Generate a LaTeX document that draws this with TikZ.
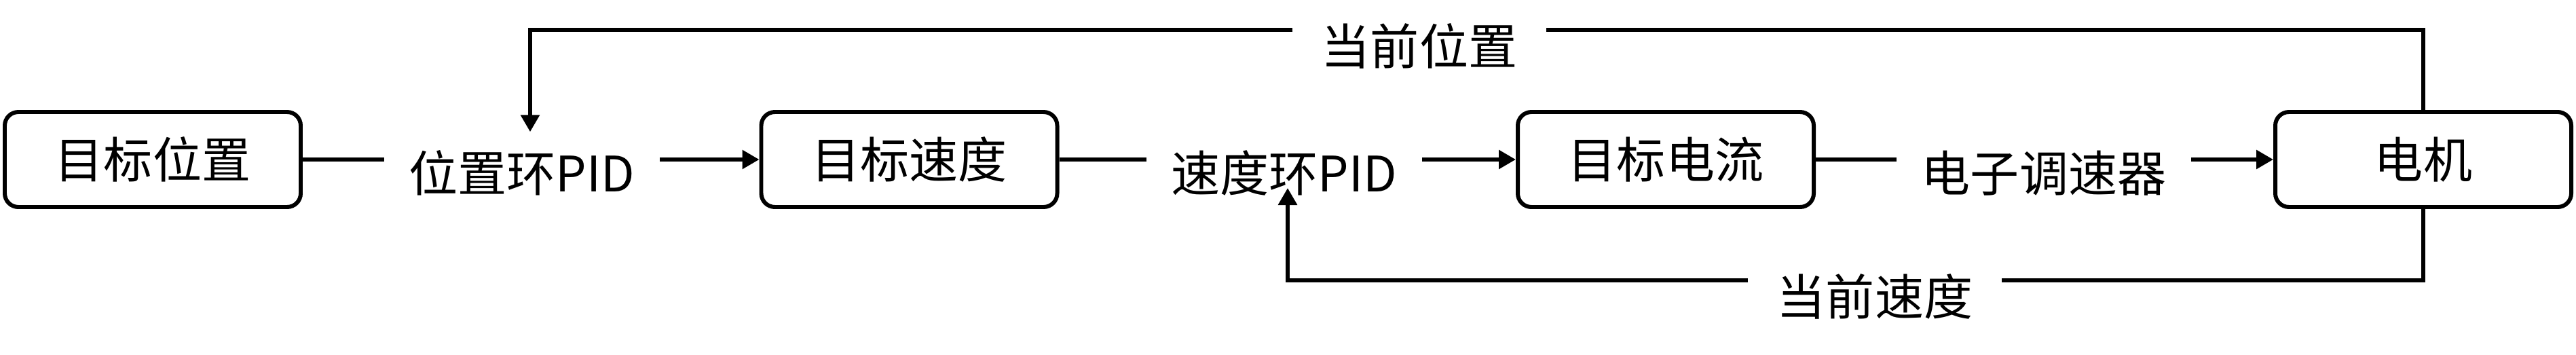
\documentclass[tikz,border=0pt]{standalone}
\usepackage{fontspec}
\setmainfont{Noto Sans CJK SC}
\usetikzlibrary{arrows.meta, positioning, calc}

\tikzset{
  block/.style={draw, line width=1.7pt, rounded corners=0.2cm,
    minimum width=4.36cm, minimum height=1.40cm,
    font=\fontsize{20.5}{24}\selectfont},
  stage/.style={inner xsep=0.36cm, inner ysep=0.26cm,
    font=\fontsize{20.5}{24}\selectfont},
  feedlabel/.style={inner xsep=0.42cm, font=\fontsize{20.5}{24}\selectfont},
  flow/.style={line width=1.7pt},
  >={Triangle[length=0.25cm, width=0.27cm]}
}

\begin{document}
\begin{tikzpicture}
    \useasboundingbox (0,0) rectangle (37.95,5.22);

    % forward path
    \node[block] (pos) at (2.25,2.87) {目标位置};
    \node[stage, anchor=base] (pospid) at (7.69,2.40) {位置环PID};
    \node[block] (spd) at (13.395,2.87) {目标速度};
    \node[stage, anchor=base] (spdpid) at (18.92,2.40) {速度环PID};
    \node[block] (cur) at (24.54,2.87) {目标电流};
    \node[stage, anchor=base] (esc) at (30.11,2.40) {电子调速器};
    \node[block] (motor) at (35.70,2.87) {电机};

    % feedback labels
    \node[feedlabel] (fbpos) at (20.91,4.54) {当前位置};
    \node[feedlabel] (fbspd) at (27.62,0.85) {当前速度};

    \draw[flow] (pos.east) -- (pos.east -| pospid.west);
    \draw[flow, ->] (pospid.east |- spd.west) -- (spd.west);
    \draw[flow] (spd.east) -- (spd.east -| spdpid.west);
    \draw[flow, ->] (spdpid.east |- cur.west) -- (cur.west);
    \draw[flow] (cur.east) -- (cur.east -| esc.west);
    \draw[flow, ->] (esc.east |- motor.west) -- (motor.west);

    % position loop
    \coordinate (topR) at (motor.north |- 0,4.78);
    \draw[flow] (motor.north) -- (topR) -- (topR -| fbpos.east);
    \draw[flow, ->] (topR -| fbpos.west) -| ([xshift=1.2mm]pospid.north);

    % speed loop
    \coordinate (botR) at (motor.south |- 0,1.09);
    \draw[flow] (motor.south) -- (botR) -- (botR -| fbspd.east);
    \draw[flow, ->] (botR -| fbspd.west) -| ([xshift=0.5mm, yshift=0.5mm]spdpid.base);
\end{tikzpicture}
\end{document}
